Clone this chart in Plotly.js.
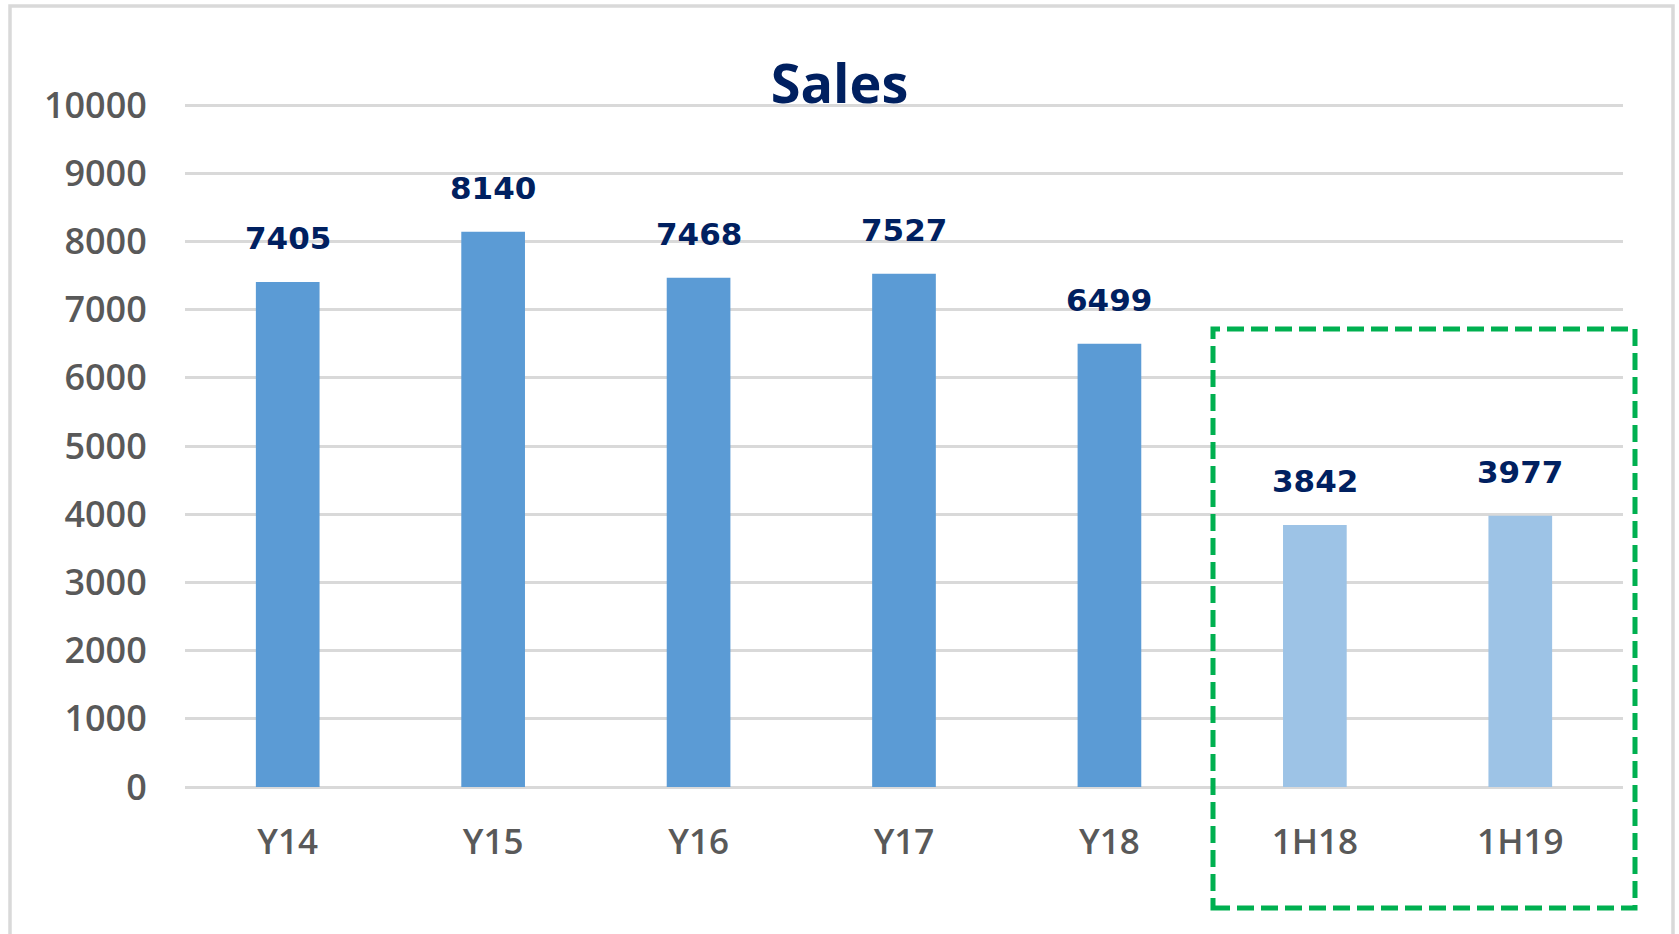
<!DOCTYPE html>
<html>
<head>
<meta charset="utf-8">
<script src="https://cdn.plot.ly/plotly-3.0.1.min.js"></script>
<style>
html,body{margin:0;padding:0;background:#fff;}
#chart{width:1679px;height:934px;}
</style>
</head>
<body>
<div id="chart"></div>
<script>
const categories = ["Y14", "Y15", "Y16", "Y17", "Y18", "1H18", "1H19"];
const sales = [7405, 8140, 7468, 7527, 6499, 3842, 3977];
const barColors = ["#5B9BD5", "#5B9BD5", "#5B9BD5", "#5B9BD5", "#5B9BD5", "#9DC3E6", "#9DC3E6"];
const yTicks = [0, 1000, 2000, 3000, 4000, 5000, 6000, 7000, 8000, 9000, 10000];

const W = 1679, H = 934;
const M = {l: 185, r: 56, t: 104, b: 147};
const pw = W - M.l - M.r, ph = H - M.t - M.b;
const px = v => (v - M.l) / pw;        // pixel x -> paper x
const py = v => (H - M.b - v) / ph;    // pixel y -> paper y

const trace = {
  type: "bar",
  x: categories,
  y: sales,
  marker: {color: barColors, line: {width: 0}},
  hoverinfo: "x+y"
};

const annotations = categories.map((c, i) => ({
  x: c, y: sales[i], xref: "x", yref: "y",
  text: String(sales[i]),
  showarrow: false,
  yanchor: "middle",
  yshift: 44,
  font: {family: "DejaVu Sans", size: 31, weight: "bold", color: "#002060"}
}));

const xTickFont = {family: "Open Sans", size: 35, weight: 600, color: "#595959"};
const yTickFont = {family: "Open Sans", size: 36, weight: 600, color: "#595959"};

const layout = {
  width: W, height: H,
  margin: M,
  paper_bgcolor: "#ffffff",
  plot_bgcolor: "#ffffff",
  showlegend: false,
  bargap: 0.69,
  title: {
    text: "Sales",
    x: 0.5, xref: "container", xanchor: "center",
    y: 1 - 84 / H, yref: "container", yanchor: "middle",
    font: {family: "Open Sans", size: 54, weight: "bold", color: "#002060"}
  },
  xaxis: {
    type: "category",
    tickvals: categories,
    ticktext: categories,
    showgrid: false, showline: false, zeroline: false,
    ticks: "outside", ticklen: 24, tickcolor: "rgba(0,0,0,0)",
    tickfont: xTickFont
  },
  yaxis: {
    range: [0, 10015],
    tickvals: yTicks,
    ticktext: yTicks.map(String),
    showgrid: true, gridcolor: "#D9D9D9", gridwidth: 3,
    zeroline: true, zerolinecolor: "#D9D9D9", zerolinewidth: 3,
    showline: false,
    ticks: "outside", ticklen: 30, tickcolor: "rgba(0,0,0,0)",
    tickfont: yTickFont
  },
  annotations: annotations,
  shapes: [
    {
      type: "rect", xref: "paper", yref: "paper",
      x0: px(10), x1: px(1673), y0: py(945), y1: py(6),
      line: {color: "#D9D9D9", width: 3.5},
      fillcolor: "rgba(0,0,0,0)", layer: "below"
    },
    {
      type: "rect", xref: "paper", yref: "paper",
      x0: px(1213), x1: px(1635), y0: py(908), y1: py(329),
      line: {color: "#00B050", width: 5, dash: "17px,7px"},
      fillcolor: "rgba(0,0,0,0)", layer: "above"
    }
  ]
};

Plotly.newPlot("chart", [trace], layout, {displayModeBar: false, staticPlot: true});
</script>
</body>
</html>
